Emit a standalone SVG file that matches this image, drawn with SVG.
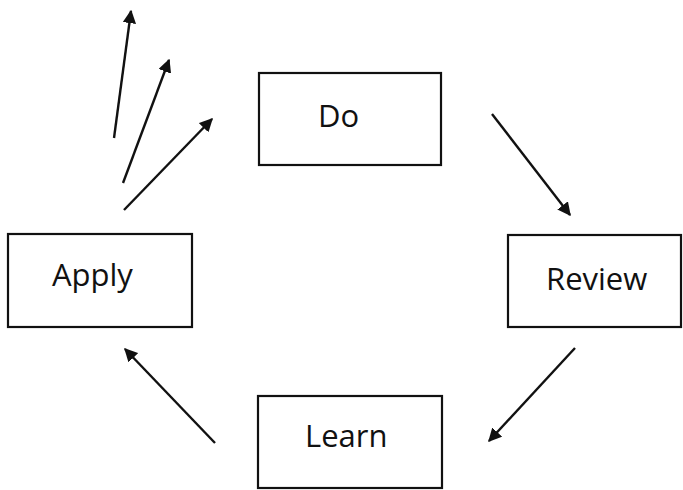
<svg xmlns="http://www.w3.org/2000/svg" width="683" height="490" viewBox="0 0 683 490">
  <defs>
    <marker id="head" viewBox="0 0 10 10" refX="9" refY="5" markerWidth="5.6" markerHeight="5.6" orient="auto" markerUnits="strokeWidth">
      <path d="M0,0 L10,5 L0,10 z" fill="#111"/>
    </marker>
    <style>
      .box { fill: #fff; stroke: #111; stroke-width: 2.2; }
      .label { font-family: "Open Sans", "Liberation Sans", sans-serif; font-size: 31px; fill: #111; }
      .arrow { stroke: #111; stroke-width: 2.4; fill: none; marker-end: url(#head); }
    </style>
  </defs>
  <rect width="683" height="490" fill="#fff"/>

  <g id="connectors">
    <line class="arrow" x1="114" y1="138" x2="131" y2="11"/>
    <line class="arrow" x1="123" y1="183" x2="169" y2="60"/>
    <line class="arrow" x1="124" y1="210" x2="212" y2="119"/>
    <line class="arrow" x1="492" y1="114" x2="570" y2="215"/>
    <line class="arrow" x1="575" y1="348" x2="489" y2="441"/>
    <line class="arrow" x1="215" y1="443" x2="125" y2="349"/>
  </g>

  <g id="do">
    <rect class="box" x="259" y="73" width="182" height="92"/>
    <text class="label" x="318" y="127">Do</text>
  </g>
  <g id="apply">
    <rect class="box" x="8" y="234" width="184" height="93"/>
    <text class="label" x="52" y="286">Apply</text>
  </g>
  <g id="review">
    <rect class="box" x="508" y="235" width="173" height="92"/>
    <text class="label" x="546" y="290">Review</text>
  </g>
  <g id="learn">
    <rect class="box" x="258" y="396" width="184" height="92"/>
    <text class="label" x="305" y="447">Learn</text>
  </g>
</svg>
